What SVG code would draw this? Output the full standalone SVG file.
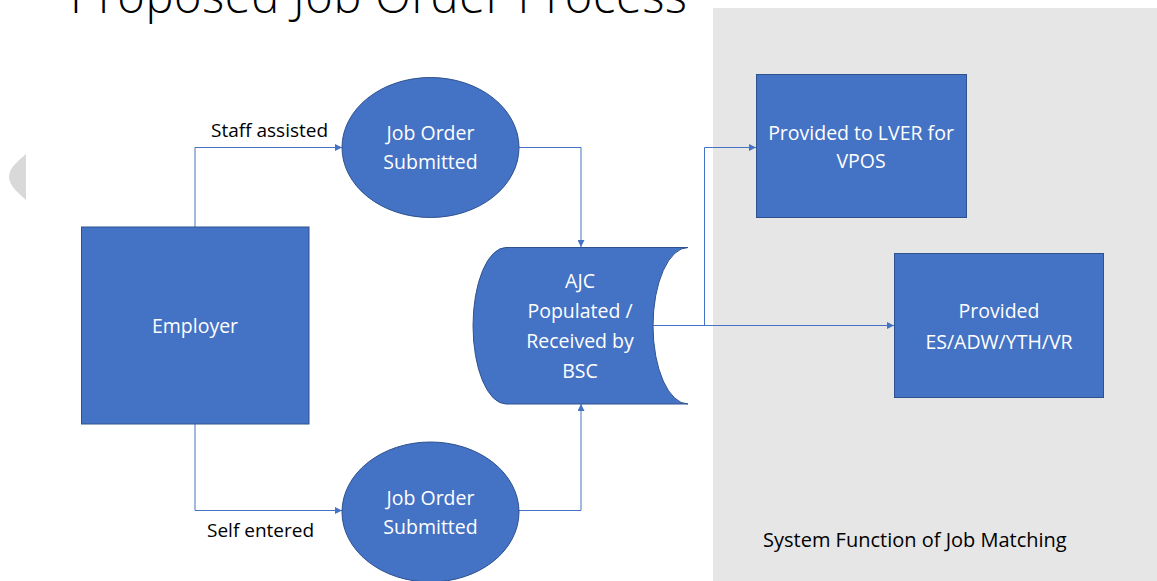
<svg xmlns="http://www.w3.org/2000/svg" width="1157" height="581" viewBox="0 0 1157 581">
<defs>
<marker id="arr" viewBox="0 0 10 10" refX="10" refY="5" markerWidth="8" markerHeight="7" markerUnits="userSpaceOnUse" orient="auto">
<path d="M0,0 L10,5 L0,10 Z" fill="#4472C4"/>
</marker>
<style>
.node{fill:#4472C4;stroke:#2F528F;stroke-width:1}
.wt{fill:#ffffff;font-family:"Open Sans","Noto Sans",sans-serif;font-size:19.5px;text-anchor:middle}
.bt{fill:#000000;font-family:"Open Sans","Noto Sans",sans-serif;font-size:19px}
.conn{fill:none;stroke:#4472C4;stroke-width:1}
</style>
</defs>
<rect width="1157" height="581" fill="#ffffff"/>
<rect x="713" y="8" width="444" height="573" fill="#e6e6e6"/>
<path d="M26,154 C18,161 9,168 9,177 C9,185 18,193 26,200 Z" fill="#d9d9d9"/>
<text x="70" y="13" font-family="'Open Sans','Noto Sans',sans-serif" font-weight="300" font-size="47" fill="#000000" textLength="617">Proposed Job Order Process</text>
<text class="bt" x="763" y="547" font-size="20" style="font-size:20px">System Function of Job Matching</text>
<text class="bt" x="211" y="137">Staff assisted</text>
<text class="bt" x="207" y="537">Self entered</text>
<g id="connectors">
<path class="conn" d="M195,227 V147.5 H342" marker-end="url(#arr)"/>
<path class="conn" d="M195,424 V510.5 H342" marker-end="url(#arr)"/>
<path class="conn" d="M519,147.5 H581 V247" marker-end="url(#arr)"/>
<path class="conn" d="M519,510.5 H581 V404" marker-end="url(#arr)"/>
<path class="conn" d="M653,325.5 H704.5 V147.5 H756" marker-end="url(#arr)"/>
<path class="conn" d="M653,325.5 H894" marker-end="url(#arr)"/>
</g>
<g id="employer">
<rect class="node" x="81.5" y="227" width="227.5" height="197"/>
<text class="wt" x="195" y="333">Employer</text>
</g>
<g id="job-order-staff">
<ellipse class="node" cx="430.5" cy="147.5" rx="88.5" ry="70"/>
<text class="wt" x="430.5" y="140">Job Order</text>
<text class="wt" x="430.5" y="169">Submitted</text>
</g>
<g id="job-order-self">
<ellipse class="node" cx="430.5" cy="512" rx="88.5" ry="70"/>
<text class="wt" x="430.5" y="505">Job Order</text>
<text class="wt" x="430.5" y="534">Submitted</text>
</g>
<g id="ajc">
<path class="node" d="M506,247.5 H688 A35 78.25 0 0 0 688,404 H506 A33 78.25 0 0 1 506,247.5 Z"/>
<text class="wt" x="580" y="288">AJC</text>
<text class="wt" x="580" y="318">Populated /</text>
<text class="wt" x="580" y="348">Received by</text>
<text class="wt" x="580" y="378">BSC</text>
</g>
<g id="lver">
<rect class="node" x="756.5" y="74.5" width="210" height="143"/>
<text class="wt" x="861" y="140">Provided to LVER for</text>
<text class="wt" x="861" y="168">VPOS</text>
</g>
<g id="es">
<rect class="node" x="894.5" y="253.5" width="209" height="144"/>
<text class="wt" x="999" y="318">Provided</text>
<text class="wt" x="999" y="349">ES/ADW/YTH/VR</text>
</g>
</svg>
